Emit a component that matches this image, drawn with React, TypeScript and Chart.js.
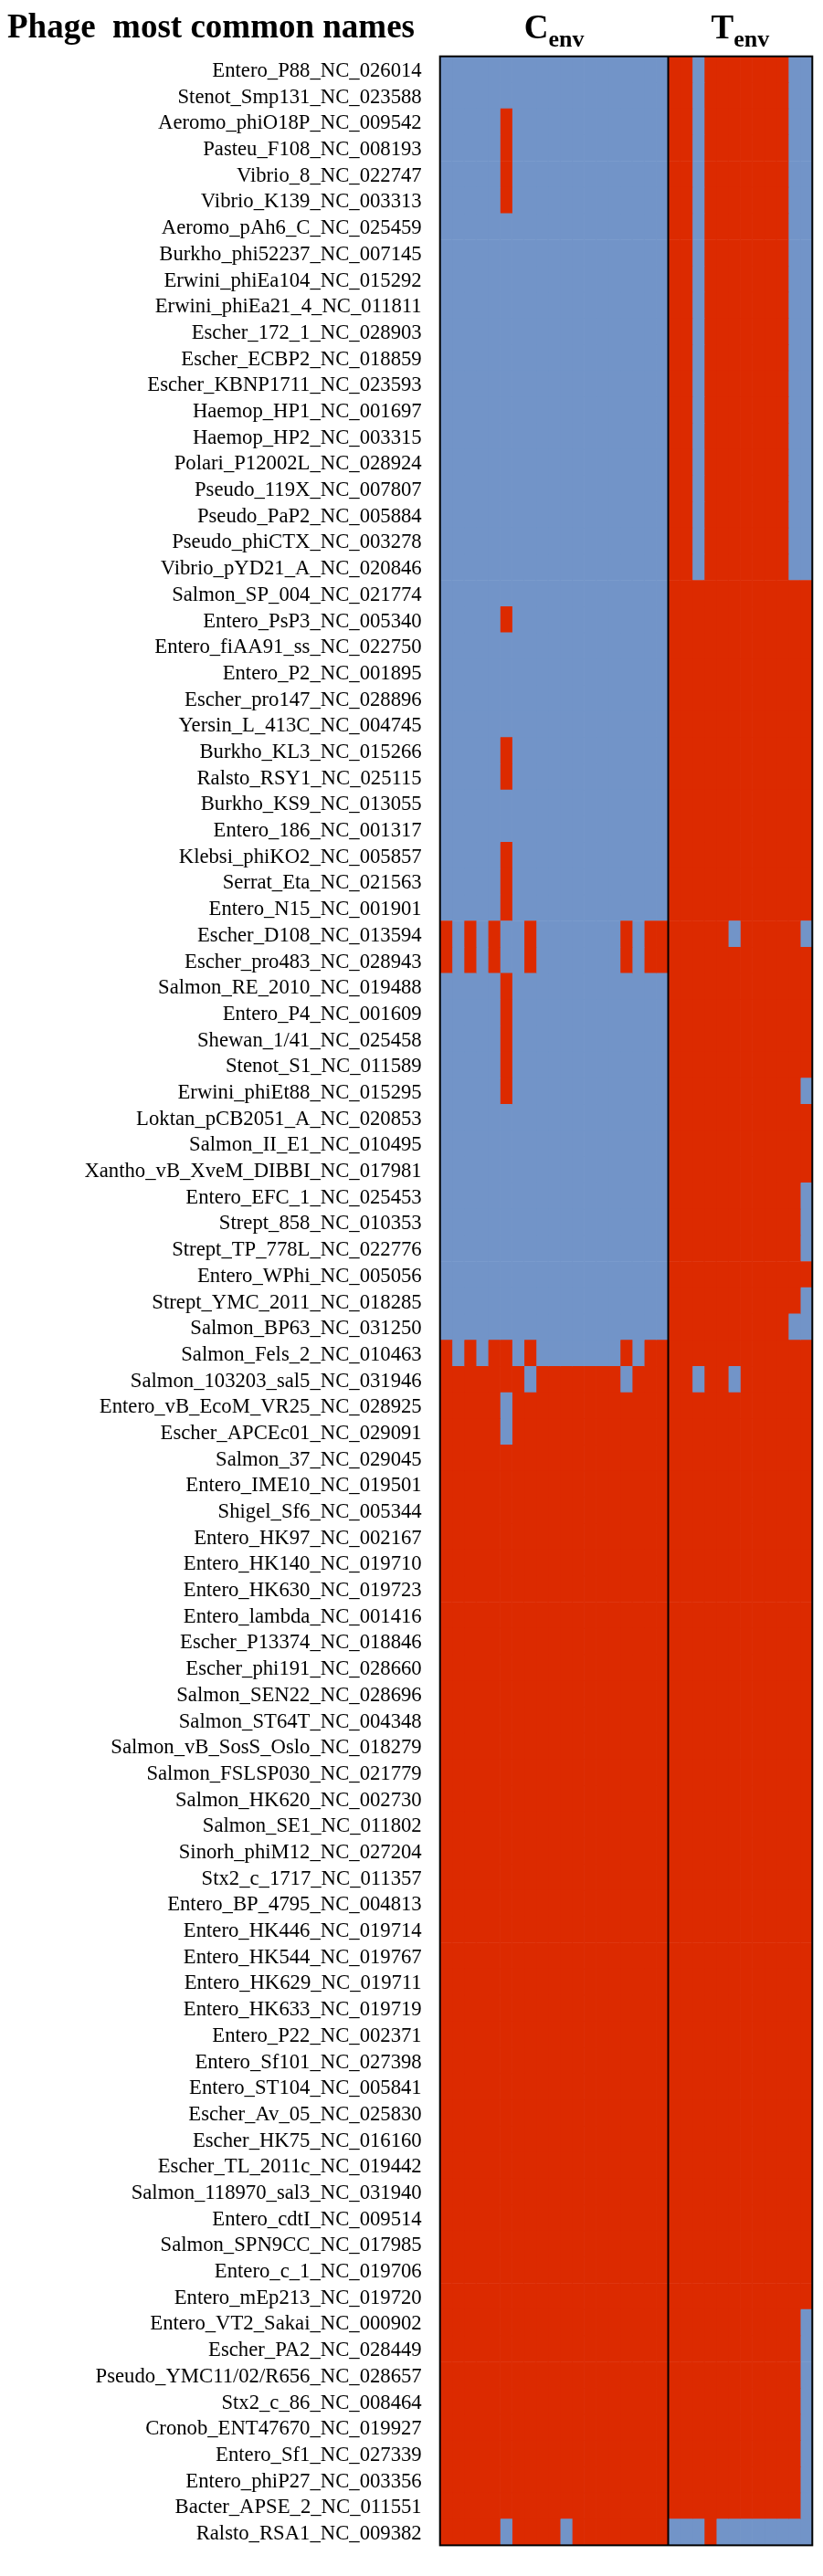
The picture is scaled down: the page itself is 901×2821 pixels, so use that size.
import React, { useEffect, useRef } from "react";
import { Chart, registerables } from "chart.js";

Chart.register(...registerables);

// ---------- DATA ----------
const headerTitle = "Phage  most common names";

const phageNames: string[] = [
  "Entero_P88_NC_026014",
  "Stenot_Smp131_NC_023588",
  "Aeromo_phiO18P_NC_009542",
  "Pasteu_F108_NC_008193",
  "Vibrio_8_NC_022747",
  "Vibrio_K139_NC_003313",
  "Aeromo_pAh6_C_NC_025459",
  "Burkho_phi52237_NC_007145",
  "Erwini_phiEa104_NC_015292",
  "Erwini_phiEa21_4_NC_011811",
  "Escher_172_1_NC_028903",
  "Escher_ECBP2_NC_018859",
  "Escher_KBNP1711_NC_023593",
  "Haemop_HP1_NC_001697",
  "Haemop_HP2_NC_003315",
  "Polari_P12002L_NC_028924",
  "Pseudo_119X_NC_007807",
  "Pseudo_PaP2_NC_005884",
  "Pseudo_phiCTX_NC_003278",
  "Vibrio_pYD21_A_NC_020846",
  "Salmon_SP_004_NC_021774",
  "Entero_PsP3_NC_005340",
  "Entero_fiAA91_ss_NC_022750",
  "Entero_P2_NC_001895",
  "Escher_pro147_NC_028896",
  "Yersin_L_413C_NC_004745",
  "Burkho_KL3_NC_015266",
  "Ralsto_RSY1_NC_025115",
  "Burkho_KS9_NC_013055",
  "Entero_186_NC_001317",
  "Klebsi_phiKO2_NC_005857",
  "Serrat_Eta_NC_021563",
  "Entero_N15_NC_001901",
  "Escher_D108_NC_013594",
  "Escher_pro483_NC_028943",
  "Salmon_RE_2010_NC_019488",
  "Entero_P4_NC_001609",
  "Shewan_1/41_NC_025458",
  "Stenot_S1_NC_011589",
  "Erwini_phiEt88_NC_015295",
  "Loktan_pCB2051_A_NC_020853",
  "Salmon_II_E1_NC_010495",
  "Xantho_vB_XveM_DIBBI_NC_017981",
  "Entero_EFC_1_NC_025453",
  "Strept_858_NC_010353",
  "Strept_TP_778L_NC_022776",
  "Entero_WPhi_NC_005056",
  "Strept_YMC_2011_NC_018285",
  "Salmon_BP63_NC_031250",
  "Salmon_Fels_2_NC_010463",
  "Salmon_103203_sal5_NC_031946",
  "Entero_vB_EcoM_VR25_NC_028925",
  "Escher_APCEc01_NC_029091",
  "Salmon_37_NC_029045",
  "Entero_IME10_NC_019501",
  "Shigel_Sf6_NC_005344",
  "Entero_HK97_NC_002167",
  "Entero_HK140_NC_019710",
  "Entero_HK630_NC_019723",
  "Entero_lambda_NC_001416",
  "Escher_P13374_NC_018846",
  "Escher_phi191_NC_028660",
  "Salmon_SEN22_NC_028696",
  "Salmon_ST64T_NC_004348",
  "Salmon_vB_SosS_Oslo_NC_018279",
  "Salmon_FSLSP030_NC_021779",
  "Salmon_HK620_NC_002730",
  "Salmon_SE1_NC_011802",
  "Sinorh_phiM12_NC_027204",
  "Stx2_c_1717_NC_011357",
  "Entero_BP_4795_NC_004813",
  "Entero_HK446_NC_019714",
  "Entero_HK544_NC_019767",
  "Entero_HK629_NC_019711",
  "Entero_HK633_NC_019719",
  "Entero_P22_NC_002371",
  "Entero_Sf101_NC_027398",
  "Entero_ST104_NC_005841",
  "Escher_Av_05_NC_025830",
  "Escher_HK75_NC_016160",
  "Escher_TL_2011c_NC_019442",
  "Salmon_118970_sal3_NC_031940",
  "Entero_cdtI_NC_009514",
  "Salmon_SPN9CC_NC_017985",
  "Entero_c_1_NC_019706",
  "Entero_mEp213_NC_019720",
  "Entero_VT2_Sakai_NC_000902",
  "Escher_PA2_NC_028449",
  "Pseudo_YMC11/02/R656_NC_028657",
  "Stx2_c_86_NC_008464",
  "Cronob_ENT47670_NC_019927",
  "Entero_Sf1_NC_027339",
  "Entero_phiP27_NC_003356",
  "Bacter_APSE_2_NC_011551",
  "Ralsto_RSA1_NC_009382",
];

// Cenv block: 19 columns per row, 1 = red, 0 = blue
const cenvRows: string[] = [
  "0000000000000000000", // 0
  "0000000000000000000",
  "0000010000000000000",
  "0000010000000000000",
  "0000010000000000000",
  "0000010000000000000", // 5
  "0000000000000000000",
  "0000000000000000000",
  "0000000000000000000",
  "0000000000000000000",
  "0000000000000000000", // 10
  "0000000000000000000",
  "0000000000000000000",
  "0000000000000000000",
  "0000000000000000000",
  "0000000000000000000", // 15
  "0000000000000000000",
  "0000000000000000000",
  "0000000000000000000",
  "0000000000000000000",
  "0000000000000000000", // 20
  "0000010000000000000",
  "0000000000000000000",
  "0000000000000000000",
  "0000000000000000000",
  "0000000000000000000", // 25
  "0000010000000000000",
  "0000010000000000000",
  "0000000000000000000",
  "0000000000000000000",
  "0000010000000000000", // 30
  "0000010000000000000",
  "0000010000000000000",
  "1010100100000001011",
  "1010100100000001011",
  "0000010000000000000", // 35
  "0000010000000000000",
  "0000010000000000000",
  "0000010000000000000",
  "0000010000000000000",
  "0000000000000000000", // 40
  "0000000000000000000",
  "0000000000000000000",
  "0000000000000000000",
  "0000000000000000000",
  "0000000000000000000", // 45
  "0000000000000000000",
  "0000000000000000000",
  "0000000000000000000",
  "1010110100000001011",
  "1111111011111110111", // 50
  "1111101111111111111",
  "1111101111111111111",
  "1111111111111111111",
  "1111111111111111111",
  "1111111111111111111", // 55
  "1111111111111111111",
  "1111111111111111111",
  "1111111111111111111",
  "1111111111111111111",
  "1111111111111111111", // 60
  "1111111111111111111",
  "1111111111111111111",
  "1111111111111111111",
  "1111111111111111111",
  "1111111111111111111", // 65
  "1111111111111111111",
  "1111111111111111111",
  "1111111111111111111",
  "1111111111111111111",
  "1111111111111111111", // 70
  "1111111111111111111",
  "1111111111111111111",
  "1111111111111111111",
  "1111111111111111111",
  "1111111111111111111", // 75
  "1111111111111111111",
  "1111111111111111111",
  "1111111111111111111",
  "1111111111111111111",
  "1111111111111111111", // 80
  "1111111111111111111",
  "1111111111111111111",
  "1111111111111111111",
  "1111111111111111111",
  "1111111111111111111", // 85
  "1111111111111111111",
  "1111111111111111111",
  "1111111111111111111",
  "1111111111111111111",
  "1111111111111111111", // 90
  "1111111111111111111",
  "1111111111111111111",
  "1111111111111111111",
  "1111101111011111111", // 94
];

// Tenv block: 12 columns per row, 1 = red, 0 = blue
const tenvRows: string[] = [
  "110111111100", // 0
  "110111111100",
  "110111111100",
  "110111111100",
  "110111111100",
  "110111111100", // 5
  "110111111100",
  "110111111100",
  "110111111100",
  "110111111100",
  "110111111100", // 10
  "110111111100",
  "110111111100",
  "110111111100",
  "110111111100",
  "110111111100", // 15
  "110111111100",
  "110111111100",
  "110111111100",
  "110111111100",
  "111111111111", // 20
  "111111111111",
  "111111111111",
  "111111111111",
  "111111111111",
  "111111111111", // 25
  "111111111111",
  "111111111111",
  "111111111111",
  "111111111111",
  "111111111111", // 30
  "111111111111",
  "111111111111",
  "111110111110",
  "111111111111",
  "111111111111", // 35
  "111111111111",
  "111111111111",
  "111111111111",
  "111111111110",
  "111111111111", // 40
  "111111111111",
  "111111111111",
  "111111111110",
  "111111111110",
  "111111111110", // 45
  "111111111111",
  "111111111110",
  "111111111100",
  "111111111111",
  "110110111111", // 50
  "111111111111",
  "111111111111",
  "111111111111",
  "111111111111",
  "111111111111", // 55
  "111111111111",
  "111111111111",
  "111111111111",
  "111111111111",
  "111111111111", // 60
  "111111111111",
  "111111111111",
  "111111111111",
  "111111111111",
  "111111111111", // 65
  "111111111111",
  "111111111111",
  "111111111111",
  "111111111111",
  "111111111111", // 70
  "111111111111",
  "111111111111",
  "111111111111",
  "111111111111",
  "111111111111", // 75
  "111111111111",
  "111111111111",
  "111111111111",
  "111111111111",
  "111111111111", // 80
  "111111111111",
  "111111111111",
  "111111111111",
  "111111111111",
  "111111111111", // 85
  "111111111110",
  "111111111110",
  "111111111110",
  "111111111110",
  "111111111110", // 90
  "111111111110",
  "111111111110",
  "111111111110",
  "000100000000", // 94
];

const groupTitles = [
  { main: "C", sub: "env" },
  { main: "T", sub: "env" },
];

// ---------- STYLE ----------
const RED = "#DC2A00";
const BLUE = "#7294C8";
const SERIF = "'Liberation Serif', 'Times New Roman', Times, serif";

export default function App() {
  const canvasRef = useRef<HTMLCanvasElement | null>(null);

  useEffect(() => {
    const canvas = canvasRef.current;
    if (!canvas) return;

    const cenvCols = cenvRows[0].length;
    const tenvCols = tenvRows[0].length;
    const totalCols = cenvCols + tenvCols;
    const fullRows = phageNames.map((_, i) => cenvRows[i] + tenvRows[i]);

    const datasets: any[] = [];
    for (let c = 0; c < totalCols; c++) {
      datasets.push({
        label: "col" + c,
        data: phageNames.map(() => [c, c + 1]),
        backgroundColor: fullRows.map((r) => (r[c] === "1" ? RED : BLUE)),
        borderWidth: 0,
        barPercentage: 1,
        categoryPercentage: 1,
        grouped: false,
      });
    }

    const framePlugin = {
      id: "frameAndHeaders",
      afterDatasetsDraw(chart: any) {
        const { ctx, chartArea: a, scales } = chart;
        const x = scales.x;
        ctx.save();
        ctx.strokeStyle = "#000";
        ctx.lineWidth = 2;
        ctx.strokeRect(a.left, a.top, a.right - a.left, a.bottom - a.top);
        const xd = x.getPixelForValue(cenvCols);
        ctx.beginPath();
        ctx.moveTo(xd, a.top);
        ctx.lineTo(xd, a.bottom);
        ctx.stroke();

        ctx.fillStyle = "#000";
        ctx.textAlign = "left";
        ctx.textBaseline = "alphabetic";
        ctx.font = `bold 37px ${SERIF}`;
        ctx.fillText(headerTitle, 8, 41);

        const spans = [
          [0, cenvCols],
          [cenvCols, totalCols],
        ];
        const mainFont = `bold 37px ${SERIF}`;
        const subFont = `bold 26px ${SERIF}`;
        groupTitles.forEach((g, i) => {
          const cx = (x.getPixelForValue(spans[i][0]) + x.getPixelForValue(spans[i][1])) / 2;
          ctx.font = mainFont;
          const w1 = ctx.measureText(g.main).width;
          ctx.font = subFont;
          const w2 = ctx.measureText(g.sub).width;
          const left = cx - (w1 + w2) / 2;
          ctx.font = mainFont;
          ctx.fillText(g.main, left, 42);
          ctx.font = subFont;
          ctx.fillText(g.sub, left + w1, 51);
        });
        ctx.restore();
      },
    };

    const chart = new Chart(canvas, {
      type: "bar",
      data: { labels: phageNames, datasets },
      options: {
        indexAxis: "y",
        animation: false,
        responsive: false,
        maintainAspectRatio: false,
        events: [],
        layout: { padding: { top: 61.7, right: 11.7, bottom: 8.3, left: 0 } },
        plugins: {
          legend: { display: false },
          tooltip: { enabled: false },
          title: { display: false },
        },
        scales: {
          x: { type: "linear", min: 0, max: totalCols, display: false },
          y: {
            type: "category",
            offset: true,
            grid: { display: false, drawTicks: false },
            border: { display: false },
            ticks: {
              autoSkip: false,
              padding: 20,
              color: "#000",
              labelOffset: 2,
              font: { family: SERIF, size: 22.7 },
            },
            afterFit: (s: any) => {
              s.width = 481.7;
            },
          },
        },
      } as any,
      plugins: [framePlugin],
    });

    return () => chart.destroy();
  }, []);

  return (
    <div
      style={{
        position: "absolute",
        left: 0,
        top: 0,
        width: 901,
        height: 2821,
        background: "#ffffff",
      }}
    >
      <canvas
        ref={canvasRef}
        width={901}
        height={2821}
        style={{ display: "block", width: 901, height: 2821 }}
      />
    </div>
  );
}
